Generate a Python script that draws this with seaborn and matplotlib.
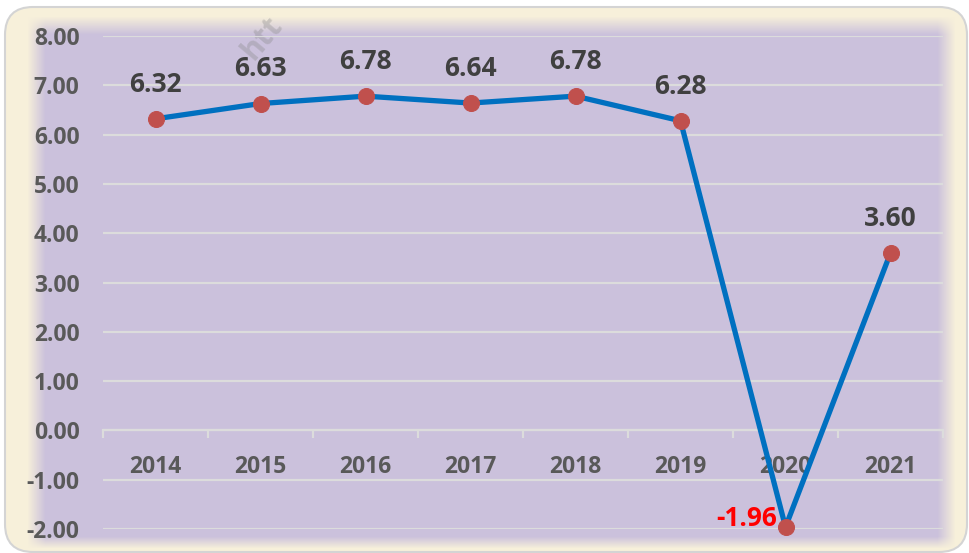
import numpy as np
import pandas as pd
import matplotlib
matplotlib.use("Agg")
import matplotlib.pyplot as plt
import seaborn as sns
from matplotlib.patches import FancyBboxPatch, Rectangle
from matplotlib.ticker import FixedLocator

years = ["2014", "2015", "2016", "2017", "2018", "2019", "2020", "2021"]
values = [6.32, 6.63, 6.78, 6.64, 6.78, 6.28, -1.96, 3.60]
y_ticks = [-2, -1, 0, 1, 2, 3, 4, 5, 6, 7, 8]

sns.set_theme(style="white")
plt.rcParams["font.family"] = ["Open Sans", "DejaVu Sans"]

W, H = 969, 553
fig = plt.figure(figsize=(W / 100, H / 100), dpi=100)

# ---- background: rounded panel with cream edge fading into purple ----
bg = fig.add_axes([0, 0, 1, 1], zorder=0)
bg.set_xlim(0, W)
bg.set_ylim(H, 0)
bg.axis("off")
xx = np.arange(W)[None, :]
yy = np.arange(H)[:, None]
mx = np.clip((xx - 27) / 18, 0, 1) * np.clip((955 - xx) / 18, 0, 1)
my = np.clip((yy - 16) / 18, 0, 1) * np.clip((548 - yy) / 12, 0, 1)
t = (mx * my)[..., None]
cream = np.array([247, 240, 218]) / 255
purple = np.array([203, 193, 220]) / 255
img = cream * (1 - t) + purple * t
bg.add_patch(Rectangle((0, 0), W, H, facecolor="white", edgecolor="none", zorder=1))
clip_patch = FancyBboxPatch((5, 7), 962, 545, boxstyle="round,pad=0,rounding_size=28",
                            facecolor="none", edgecolor="none")
bg.add_patch(clip_patch)
im2 = bg.imshow(img, extent=(0, W, H, 0), zorder=2, interpolation="bilinear")
im2.set_clip_path(clip_patch)
bg.add_patch(FancyBboxPatch((5, 7), 962, 545, boxstyle="round,pad=0,rounding_size=28",
                            facecolor="none", edgecolor="#d4d4d4", linewidth=1.5, zorder=3))
bg.text(262, 38, "htt", rotation=50, fontsize=22, color="#888888", alpha=0.35,
        fontweight="bold", ha="center", va="center", zorder=4)

# ---- main axes ----
left, right = 103 / W, 943 / W
top, bottom = 36 / H, 529 / H
ax = fig.add_axes([left, 1 - bottom, right - left, bottom - top], zorder=2)
ax.patch.set_alpha(0)

df = pd.DataFrame({"year": years, "value": values})
sns.lineplot(data=df, x="year", y="value", sort=False, ax=ax, color="#0070c0",
             linewidth=3.8, marker="o", markersize=11.5, markerfacecolor="#c0504d",
             markeredgecolor="#c0504d", zorder=5)
for ln in ax.get_lines():
    ln.set_clip_on(False)

ax.set_xlim(-0.5, len(years) - 0.5)
ax.set_ylim(-2, 8)
ax.set_yticks(y_ticks)
ax.set_yticklabels([f"{v:.2f}" for v in y_ticks])
ax.grid(axis="y", color="#dcdcdc", linewidth=1.6, zorder=1)
ax.grid(axis="x", visible=False)
ax.set_xlabel("")
ax.set_ylabel("")

for s in ["top", "right", "left"]:
    ax.spines[s].set_visible(False)
ax.spines["bottom"].set_position(("data", 0))
ax.spines["bottom"].set_color("#dcdcdc")
ax.spines["bottom"].set_linewidth(1.6)

ax.xaxis.set_minor_locator(FixedLocator(np.arange(-0.5, len(years), 1.0)))
ax.tick_params(axis="x", which="major", length=0, pad=18, labelsize=16.5,
               labelcolor="#595959")
ax.tick_params(axis="x", which="minor", length=6, width=1.6, color="#dcdcdc",
               direction="out", bottom=True)
ax.tick_params(axis="y", length=0, pad=17, labelsize=16.5, labelcolor="#595959")
for lab in ax.get_xticklabels() + ax.get_yticklabels():
    lab.set_fontweight("bold")

for i, v in enumerate(values):
    if v < 0:
        ax.annotate(f"{v:.2f}", (i, v), xytext=(-6, 6), textcoords="offset points",
                    ha="right", va="center", fontsize=19, fontweight="bold",
                    color="#ff0000", zorder=6, annotation_clip=False)
    else:
        ax.annotate(f"{v:.2f}", (i, v), xytext=(0, 25), textcoords="offset points",
                    ha="center", va="center", fontsize=19, fontweight="bold",
                    color="#404040", zorder=6)

fig.savefig("out.png", dpi=100)
